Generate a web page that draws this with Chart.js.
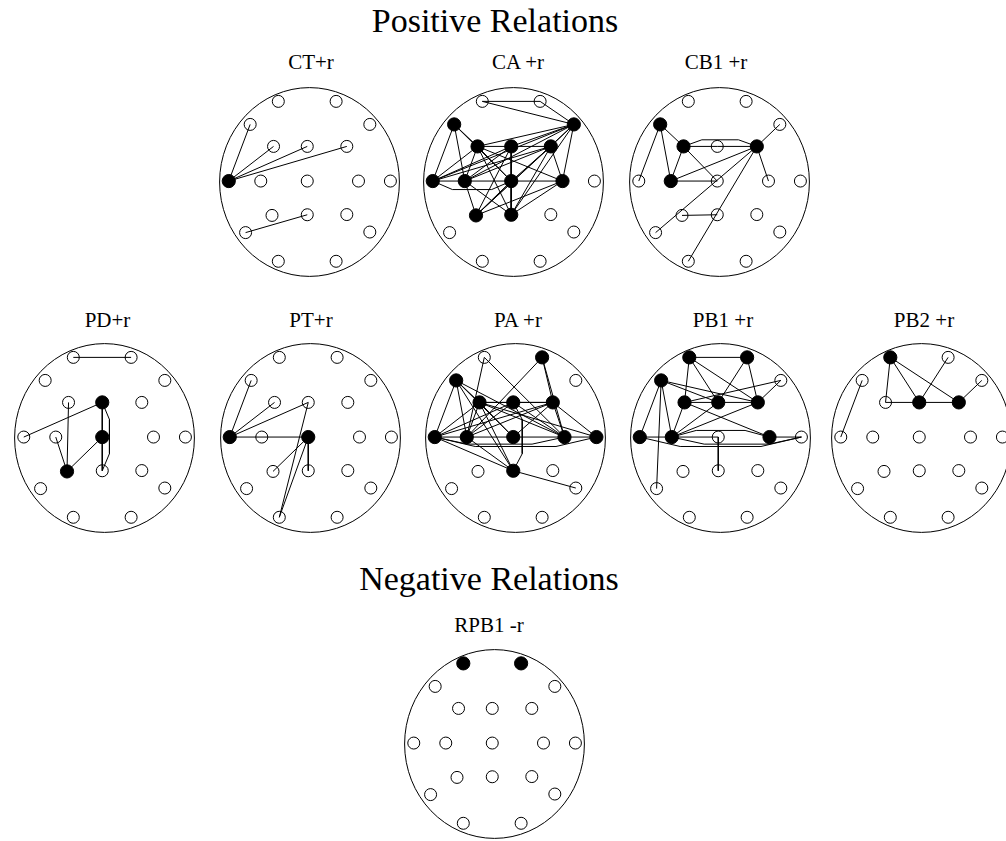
<!DOCTYPE html>
<html>
<head>
<meta charset="utf-8">
<script src="https://cdn.jsdelivr.net/npm/chart.js@4.4.1/dist/chart.umd.min.js"></script>
<style>
  html, body { margin: 0; padding: 0; background: #fff; }
  body { width: 1006px; height: 841px; position: relative; overflow: hidden;
         font-family: "Liberation Serif", "DejaVu Serif", serif; color: #000; }
  .heading { position: absolute; font-size: 34px; line-height: 34px; white-space: nowrap;
             transform: translateX(-50%); }
  .maptitle { position: absolute; font-size: 21px; line-height: 21px; white-space: nowrap;
              transform: translateX(-50%); }
  canvas.head { position: absolute; }
</style>
</head>
<body>
<script>
// 10-20 electrode montage (head units: x to the right, y towards the nose)
const electrodes = ['Fp1','Fp2','F7','F3','Fz','F4','F8','T3','C3','Cz','C4','T4','T5','P3','Pz','P4','T6','O1','O2'];
const montageX = [-0.347, 0.296, -0.660, -0.400, -0.025, 0.415, 0.671, -0.898, -0.542, -0.025, 0.545, 0.900, -0.711, -0.417, -0.025, 0.415, 0.671, -0.347, 0.296];
const montageY = [0.854, 0.854, 0.610, 0.377, 0.377, 0.377, 0.610, 0.010, 0.010, 0.010, 0.010, 0.010, -0.536, -0.354, -0.347, -0.345, -0.530, -0.840, -0.840];

// Section headings
const headings = ['Positive Relations', 'Negative Relations'];

// Map titles
const mapTitles = ['CT+r', 'CA +r', 'CB1 +r', 'PD+r', 'PT+r', 'PA +r', 'PB1 +r', 'PB2 +r', 'RPB1 -r'];

// Electrodes marked as significant (filled) in each map
const activeCT   = ['T3'];
const activeCA   = ['F7','F8','F3','Fz','F4','T3','C3','Cz','C4','P3','Pz'];
const activeCB1  = ['F7','F3','F4','C3'];
const activePD   = ['Fz','Cz','P3'];
const activePT   = ['T3','Cz'];
const activePA   = ['Fp2','F7','F3','Fz','F4','T3','C3','Cz','C4','T4','Pz'];
const activePB1  = ['Fp1','Fp2','F7','F3','Fz','F4','T3','C3','C4'];
const activePB2  = ['Fp1','Fz','F4'];
const activeRPB1 = ['Fp1','Fp2'];

// Pairwise relations drawn as links
const linksCT = [['T3','F7'],['T3','F3'],['T3','Fz'],['T3','F4'],['T5','Pz']];
const linksCA = [
  ['Fp1','Fp2'],['Fp1','F8'],['Fp2','F8'],
  ['F7','F3'],['F7','T3'],['F7','C3'],['F7','Cz'],
  ['F8','F3'],['F8','Fz'],['F8','F4'],['F8','T3'],['F8','C3'],['F8','C4'],['F8','P3'],['F8','Pz'],
  ['F3','Fz'],['F3','T3'],['F3','C3'],['F3','Cz'],['F3','C4'],['F3','Pz'],
  ['Fz','F4'],['Fz','T3'],['Fz','C3'],['Fz','Cz'],['Fz','P3'],['Fz','Pz'],
  ['F4','T3'],['F4','C3'],['F4','Cz'],['F4','C4'],['F4','P3'],['F4','Pz'],
  ['T3','C3'],['T3','Cz'],
  ['C3','Cz'],['C3','P3'],['C3','Pz'],
  ['Cz','C4'],['Cz','P3'],['Cz','Pz'],
  ['C4','P3'],['C4','Pz']
];
const linksCB1 = [
  ['F7','T3'],['F7','C3'],['F7','F3'],['F3','C3'],
  ['F3','Fz'],['Fz','F4'],['F3','F4'],['F3','Cz'],
  ['C3','Cz'],['C3','F4'],['F4','F8'],['F4','C4'],
  ['F4','T5'],['F4','O1'],['P3','Pz']
];
const linksPD = [['Fp1','Fp2'],['T3','Fz'],['F3','P3'],['C3','P3'],['P3','Cz'],['Fz','Cz'],['Fz','Pz'],['Cz','Pz']];
const linksPT = [['T3','F7'],['T3','F3'],['T3','Fz'],['T3','Cz'],['Fz','O1'],['Cz','P3'],['Cz','Pz'],['Cz','O1']];
const linksPA = [
  ['Fp1','C3'],['Fp1','C4'],['Fp2','C3'],['Fp2','F4'],['Fp2','C4'],
  ['F7','F3'],['F7','T3'],['F7','C3'],['F7','Cz'],['F7','C4'],['F7','Pz'],
  ['F3','Fz'],['F3','F4'],['F3','T3'],['F3','C3'],['F3','Cz'],['F3','C4'],['F3','T4'],['F3','Pz'],
  ['Fz','F4'],['Fz','T3'],['Fz','C3'],['Fz','C4'],['Fz','Pz'],
  ['F4','T3'],['F4','C3'],['F4','Cz'],['F4','C4'],['F4','T4'],
  ['T3','C3'],['T3','C4'],['T3','Pz'],['T3','T4'],
  ['C3','Cz'],['C3','Pz'],
  ['Cz','C4'],['C4','T4'],['Pz','T6']
];
const linksPB1 = [
  ['Fp1','Fp2'],['Fp1','F3'],['Fp1','Fz'],['Fp1','F4'],['Fp2','Fz'],['Fp2','F4'],
  ['F7','T3'],['F7','C3'],['F7','T5'],['F7','Fz'],['F7','F4'],
  ['F3','Fz'],['F3','F8'],['F3','C3'],['F3','C4'],
  ['Fz','F4'],['Fz','C3'],['F4','F8'],['F4','C3'],
  ['T3','C3'],['T3','T4'],['C3','T4'],['C3','Cz'],['C3','C4'],['C4','T4'],['Cz','Pz']
];
const linksPB2 = [['Fp1','F3'],['Fp1','Fz'],['Fp1','F4'],['F3','Fz'],['Fz','F4'],['Fz','Fp2'],['F4','F8'],['F7','T3']];
const linksRPB1 = [];

const maps = [
  [activeCT, linksCT], [activeCA, linksCA], [activeCB1, linksCB1],
  [activePD, linksPD], [activePT, linksPT], [activePA, linksPA], [activePB1, linksPB1], [activePB2, linksPB2],
  [activeRPB1, linksRPB1]
];

// ---- drawing style and layout ----

// Links routed around intermediate electrodes: sideways detour (head units, left of a->b positive)
const linkDetours = [
  {}, { 'T3-Cz': -0.09 }, { 'F3-F4': 0.07 },
  { 'Fz-Pz': 0.08 }, {}, { 'T3-T4': -0.1, 'T3-C4': -0.075, 'Fz-Pz': 0.1 },
  { 'T3-T4': -0.1, 'C3-T4': -0.075, 'C3-C4': 0.07 }, {}, {}
];

// Page placement of each map: [circle centre x, circle top y, title centre x, title baseline y]
const mapBoxes = [
  [309.2,  84, 311,  70], [513.3,  84, 518,  70], [719.2,  84, 716,  70],
  [104.2, 340, 107.5, 328], [310, 340, 311, 328], [515, 340, 518, 328], [720.3, 340, 723, 328], [921.8, 340, 924, 328],
  [494, 646, 489, 633]
];
const headingBoxes = [[495, 32], [489, 590.5]];

const HEAD_W = 187, HEAD_H = 196, PAD = 4;
const TITLE_ASCENT = 0.8375; // baseline offset in em for line-height 1

function pt(name) {
  const i = electrodes.indexOf(name);
  return { x: montageX[i], y: montageY[i] };
}

function linkPath(a, b, detour) {
  const p = pt(a), q = pt(b);
  if (!detour) return [p, q];
  const dx = q.x - p.x, dy = q.y - p.y, len = Math.hypot(dx, dy);
  const nx = -dy / len * detour, ny = dx / len * detour;
  const at = t => ({ x: p.x + dx * t + nx, y: p.y + dy * t + ny });
  return [p, at(0.25), at(0.75), q];
}

// Head outline drawn through the scales, behind the electrodes
const headOutline = {
  id: 'headOutline',
  beforeDatasetsDraw(chart) {
    const { ctx, scales: { x, y } } = chart;
    const cx = x.getPixelForValue(0), cy = y.getPixelForValue(0);
    const rx = x.getPixelForValue(1) - cx, ry = cy - y.getPixelForValue(1);
    ctx.save();
    ctx.beginPath();
    ctx.ellipse(cx, cy, rx, ry, 0, 0, Math.PI * 2);
    ctx.lineWidth = 1;
    ctx.strokeStyle = '#000';
    ctx.stroke();
    ctx.restore();
  }
};

headings.forEach((text, k) => {
  const d = document.createElement('div');
  d.className = 'heading';
  d.textContent = text;
  d.style.left = headingBoxes[k][0] + 'px';
  d.style.top = (headingBoxes[k][1] - TITLE_ASCENT * 34) + 'px';
  document.body.appendChild(d);
});

maps.forEach(([active, links], k) => {
  const [cx, top, tx, tb] = mapBoxes[k];

  const t = document.createElement('div');
  t.className = 'maptitle';
  t.textContent = mapTitles[k];
  t.style.left = tx + 'px';
  t.style.top = (tb - TITLE_ASCENT * 21) + 'px';
  document.body.appendChild(t);

  const c = document.createElement('canvas');
  c.className = 'head';
  c.width = HEAD_W + 2 * PAD;
  c.height = HEAD_H + 2 * PAD;
  c.style.width = c.width + 'px';
  c.style.height = c.height + 'px';
  c.style.left = (cx - HEAD_W / 2 - PAD) + 'px';
  c.style.top = (top - PAD) + 'px';
  document.body.appendChild(c);

  const linkSets = links.map(([a, b]) => ({
    data: linkPath(a, b, linkDetours[k][a + '-' + b]),
    showLine: true,
    tension: 0,
    borderColor: '#000',
    borderWidth: 1,
    pointRadius: 0,
    clip: false,
    order: 0
  }));

  const isOn = electrodes.map(n => active.includes(n));
  const electrodeSet = {
    data: electrodes.map(n => pt(n)),
    pointRadius: isOn.map(on => on ? 6.6 : 6),
    pointBackgroundColor: isOn.map(on => on ? '#000' : '#fff'),
    pointBorderColor: '#000',
    pointBorderWidth: 1,
    clip: false,
    order: 1
  };

  new Chart(c, {
    type: 'scatter',
    data: { datasets: [...linkSets, electrodeSet] },
    options: {
      responsive: false,
      animation: false,
      events: [],
      layout: { padding: PAD },
      scales: {
        x: { type: 'linear', min: -1, max: 1, display: false },
        y: { type: 'linear', min: -1, max: 1, display: false }
      },
      plugins: { legend: { display: false }, tooltip: { enabled: false }, title: { display: false } }
    },
    plugins: [headOutline]
  });
});
</script>
</body>
</html>
